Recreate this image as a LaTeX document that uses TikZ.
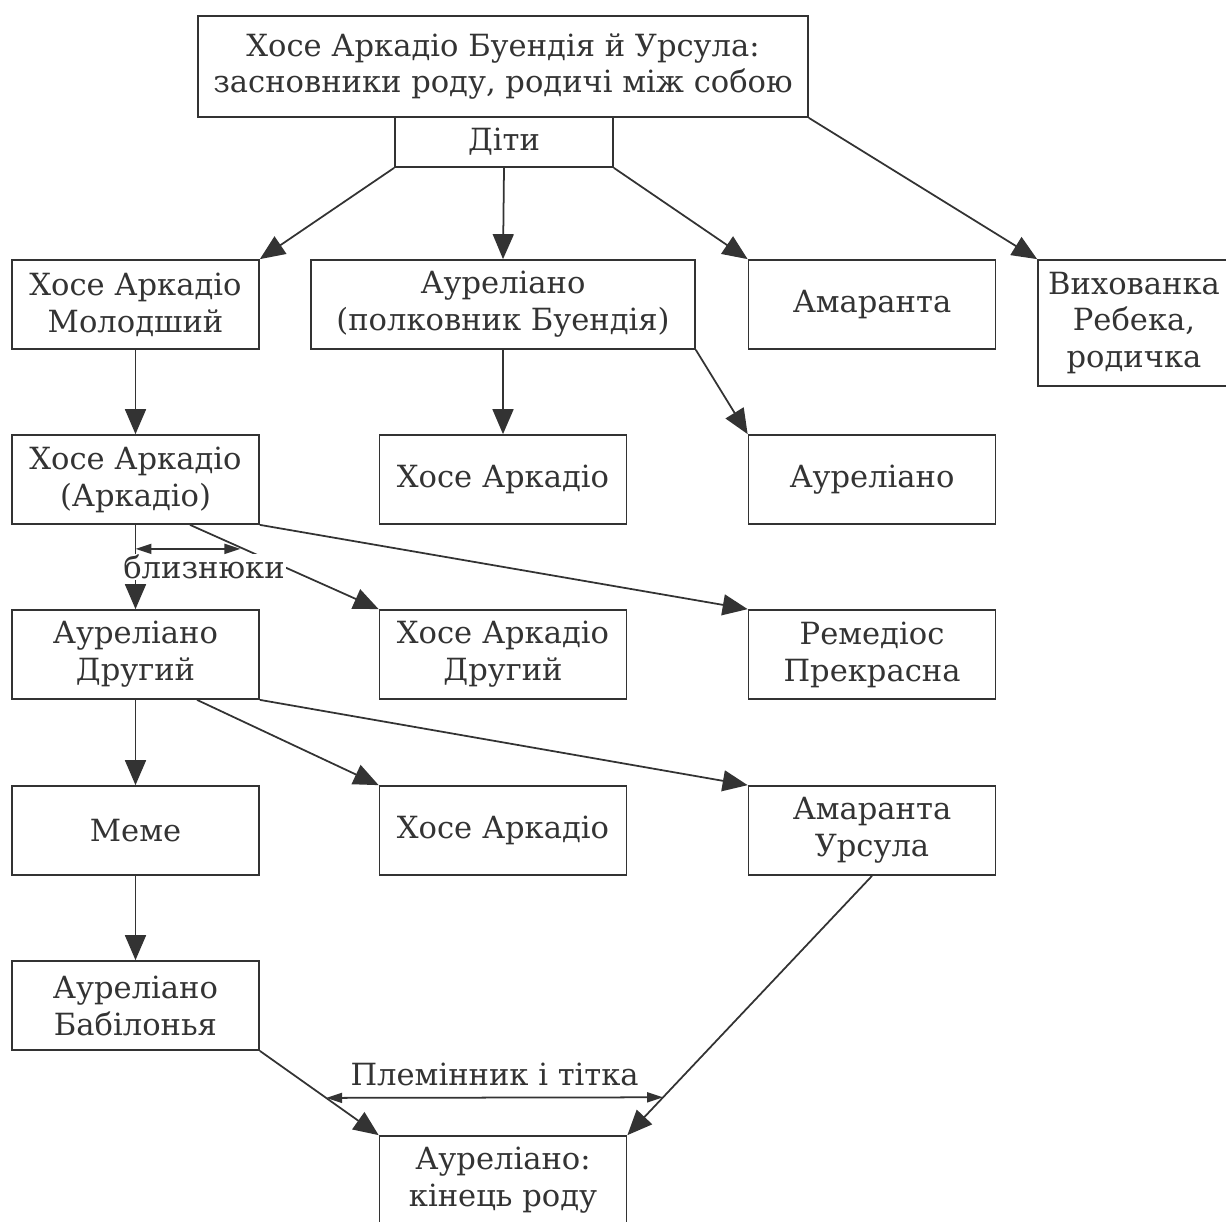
\documentclass[tikz,border=0pt]{standalone}
\usepackage{fontspec}
\setmainfont{DejaVu Serif}
\usepackage{xcolor}
\usepackage{tikz}
\usetikzlibrary{arrows.meta,calc}
\definecolor{ink}{HTML}{333333}

\begin{document}
\begin{tikzpicture}[
    x=0.02cm, y=-0.02cm,
    every node/.style={text=ink, font=\fontsize{17.4}{21}\selectfont},
    box/.style={
        draw=ink,
        line width=1pt,
        align=center,
        inner sep=0pt,
        minimum width=4.94cm,
        minimum height=1.78cm
    },
    link/.style={
        draw=ink,
        line width=1pt,
        -{Triangle[length=0.5cm,width=0.42cm]}
    },
    span/.style={
        draw=ink,
        line width=1pt,
        {Triangle[length=0.32cm,width=0.2cm]}-{Triangle[length=0.32cm,width=0.2cm]}
    },
    tag/.style={fill=white, inner sep=0.5pt}
]
\useasboundingbox (0,0) rectangle (1226,1221);

% founders and children
\node[box, minimum width=12.2cm, minimum height=2.02cm] (founders) at (503,66.5)
    {Хосе Аркадіо Буендія й Урсула:\\засновники роду, родичі між собою};
\node[box, minimum width=4.36cm, minimum height=1.0cm] (kids) at (504,142) {Діти};

% first generation
\node[box] (jaJr) at (135.5,304.5) {Хосе Аркадіо\\Молодший};
\node[box, minimum width=7.68cm] (colonel) at (503,304.5) {Ауреліано\\(полковник Буендія)};
\node[box] (amaranta) at (872,304.5) {Амаранта};
\node[box, minimum width=3.84cm, minimum height=2.52cm] (rebeca) at (1134,323)
    {Вихованка\\Ребека,\\родичка};

% second generation
\node[box] (arcadio) at (135.5,479.5) {Хосе Аркадіо\\(Аркадіо)};
\node[box] (colJA) at (503,479.5) {Хосе Аркадіо};
\node[box] (colAur) at (872,479.5) {Ауреліано};

% third generation
\node[box] (aurSeg) at (135.5,654.5) {Ауреліано\\Другий};
\node[box] (jaSeg) at (503,654.5) {Хосе Аркадіо\\Другий};
\node[box] (remedios) at (872,654.5) {Ремедіос\\Прекрасна};

% fourth generation
\node[box] (meme) at (135.5,830.5) {Меме};
\node[box] (jaLast) at (503,830.5) {Хосе Аркадіо};
\node[box] (amUrs) at (872,830.5) {Амаранта\\Урсула};

% last ones
\node[box] (babilonia) at (135.5,1005.5) {Ауреліано\\Бабілонья};
\node[box] (theEnd) at (503,1180.5) {Ауреліано:\\кінець роду};

% arrows
\draw[link] (kids.south west) -- (jaJr.north east);
\draw[link] (kids.south) -- (colonel.north);
\draw[link] (kids.south east) -- (amaranta.north west);
\draw[link] (founders.south east) -- (rebeca.north west);

\draw[link] (jaJr.south) -- (arcadio.north);
\draw[link] (colonel.south) -- (colJA.north);
\draw[link] (colonel.south east) -- (colAur.north west);

\draw[link] (arcadio.south) -- (aurSeg.north);
\draw[link] ([xshift=1.09cm]arcadio.south) -- (jaSeg.north west);
\draw[link] (arcadio.south east) -- (remedios.north west);

\draw[link] (aurSeg.south) -- (meme.north);
\draw[link] ([xshift=1.23cm]aurSeg.south) -- (jaLast.north west);
\draw[link] (aurSeg.south east) -- (amUrs.north west);

\draw[link] (meme.south) -- (babilonia.north);
\draw[link] (babilonia.south east) -- (theEnd.north west);
\draw[link] (amUrs.south) -- (theEnd.north east);

% twins
\node[tag] (twins) at (204,567) {близнюки};
\coordinate (twA) at ([yshift=-0.48cm]arcadio.south);
\coordinate (twB) at ([xshift=2.1cm]twA);
\draw[span] (twA) -- (twB);

% nephew and aunt
\coordinate (kinA) at ($(babilonia.south east)!0.558!(theEnd.north west)$);
\coordinate (kinB) at ($(amUrs.south)!0.854!(theEnd.north east)$);
\draw[span] (kinA) -- (kinB);
\node[above=3pt] (kin) at ($(kinA)!0.5!(kinB)$) {Племінник і тітка};

\end{tikzpicture}
\end{document}
